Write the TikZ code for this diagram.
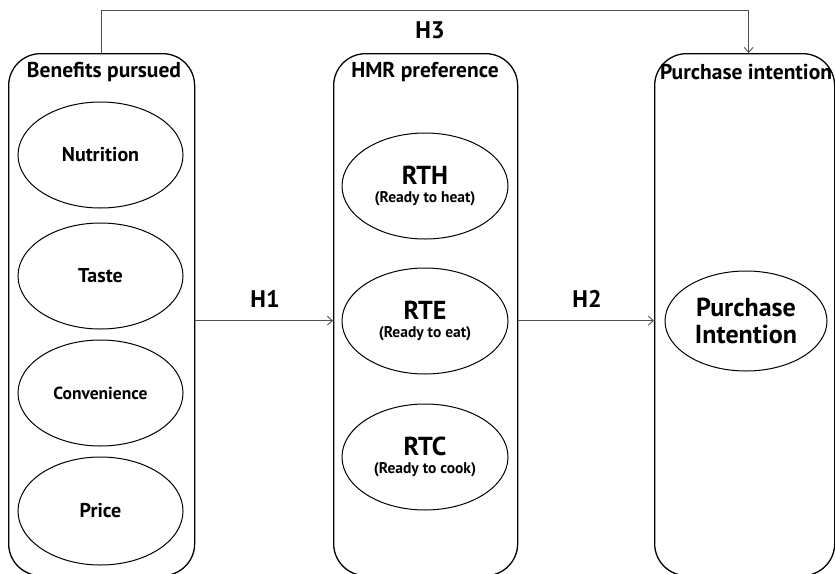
\documentclass[tikz,border=0pt]{standalone}
\usepackage{fontspec}
\setmainfont{PT Sans}
\usetikzlibrary{arrows.meta,shapes.geometric}
\begin{document}
\begin{tikzpicture}[x=1pt,y=-1pt,
  panel/.style={draw=black, line width=1.3pt, rounded corners=32pt, minimum height=522pt, anchor=north west, inner sep=0pt},
  oval/.style={draw=black, line width=1pt, ellipse, inner sep=0pt, align=center},
  title/.style={font=\bfseries\fontsize{21.5}{23}\selectfont},
  hlab/.style={font=\bfseries\fontsize{24}{26}\selectfont},
  conn/.style={draw={rgb,255:red,80;green,80;blue,80}, line width=0.9pt, -{Straight Barb[length=5pt,width=9pt]}},
  mid/.style={font=\bfseries\fontsize{20}{22}\selectfont}
]
\clip (0,0) rectangle (835,573);
\fill[white] (0,0) rectangle (835,573);
% panels
\node[panel, minimum width=186pt] (box1) at (8,53) {};
\node[panel, minimum width=184pt] (box2) at (333,53) {};
\node[panel, minimum width=180pt] (box3) at (654,53) {};
% titles
\node[title] (t1) at (104,72) {Benefits pursued};
\node[title] (t2) at (425,72) {HMR preference};
\node[title] (t3) at (746,72) {Purchase intention};
% benefits
\node[oval, minimum width=165pt, minimum height=106pt, mid] (nut) at (100.5,155) {Nutrition};
\node[oval, minimum width=165pt, minimum height=106pt, mid] (tas) at (100.5,276) {Taste};
\node[oval, minimum width=165pt, minimum height=106pt, font=\bfseries\fontsize{17.5}{19}\selectfont] (con) at (100.5,393) {Convenience};
\node[oval, minimum width=165pt, minimum height=108pt, mid] (pri) at (100.5,511) {Price};
% HMR
\node[oval, minimum width=166pt, minimum height=106pt] (rth) at (425,186) {{\bfseries\fontsize{26}{26}\selectfont RTH}\\[6pt]{\bfseries\fontsize{15.5}{16}\selectfont (Ready to heat)}};
\node[oval, minimum width=166pt, minimum height=106pt] (rte) at (425,321) {{\bfseries\fontsize{26}{26}\selectfont RTE}\\[6pt]{\bfseries\fontsize{15.5}{16}\selectfont (Ready to eat)}};
\node[oval, minimum width=166pt, minimum height=106pt] (rtc) at (425,457) {{\bfseries\fontsize{26}{26}\selectfont RTC}\\[6pt]{\bfseries\fontsize{15.5}{16}\selectfont (Ready to cook)}};
% purchase
\node[oval, minimum width=162pt, minimum height=100pt, font=\bfseries\fontsize{26}{27}\selectfont] (pin) at (746,321) {Purchase\\Intention};
% connectors
\draw[conn] ([yshift=-6pt]box1.east) -- ([yshift=-6pt]box2.west);
\draw[conn] ([yshift=-6pt]box2.east) -- ([yshift=-6pt]box3.west);
\draw[conn] (box1.north) -- ++(0,-43) -| ([xshift=4pt]box3.north);
% labels
\node[hlab] (h1) at (265,299) {H1};
\node[hlab] (h2) at (587,299) {H2};
\node[hlab] (h3) at (430,30) {H3};
\end{tikzpicture}
\end{document}
